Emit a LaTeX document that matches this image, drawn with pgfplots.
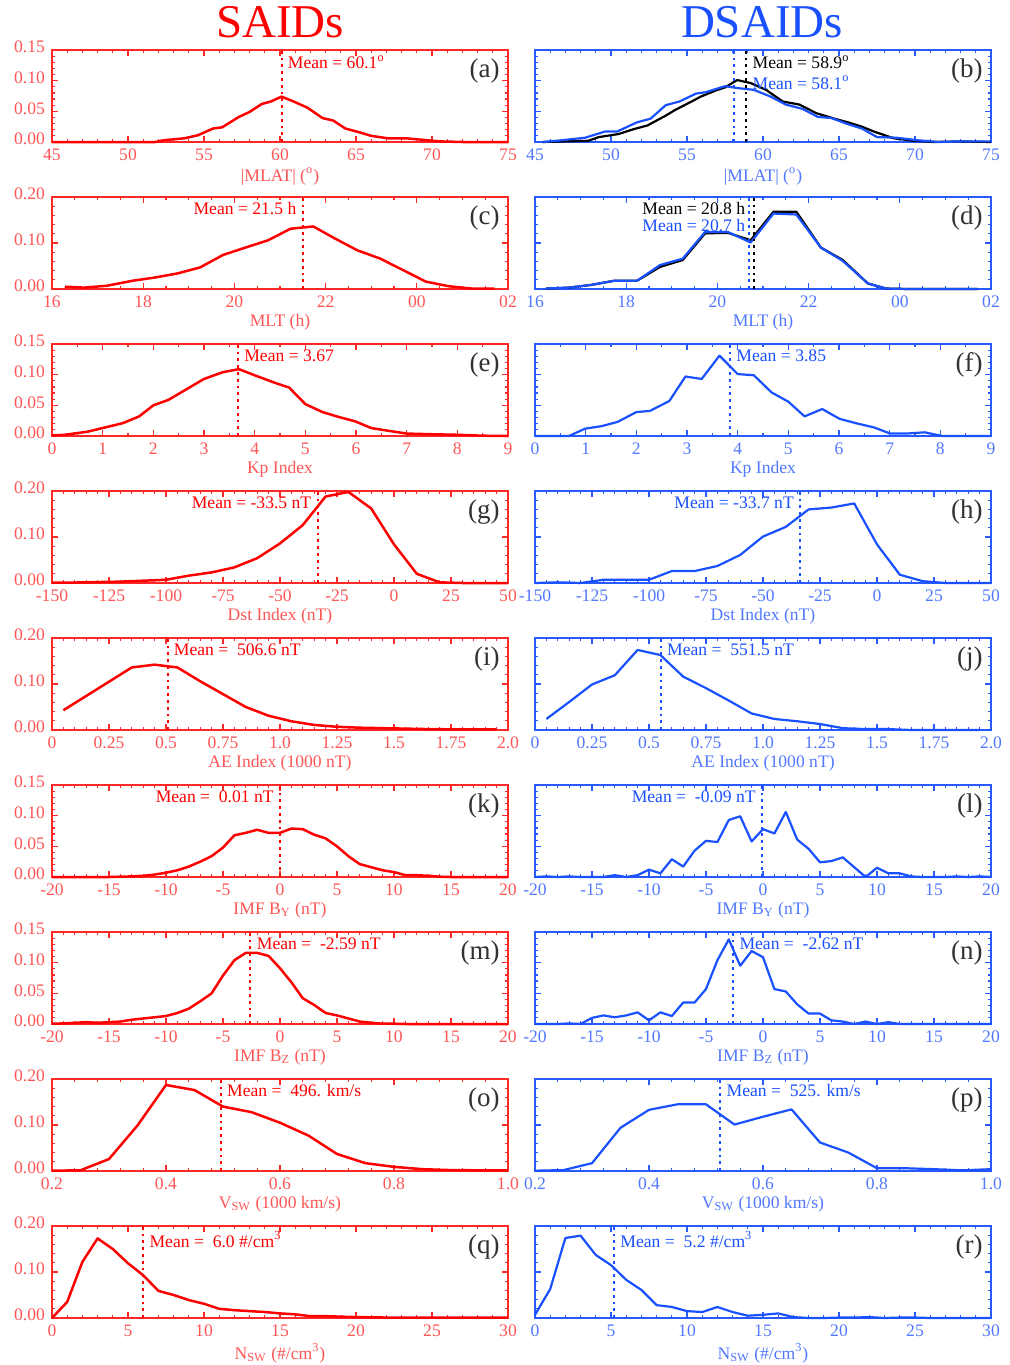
\documentclass[border=0pt]{standalone}
\usepackage{fontspec}
\setmainfont{Liberation Serif}
\usepackage{pgfplots}
\pgfplotsset{compat=1.18}
\definecolor{myred}{RGB}{255,0,0}
\definecolor{myblue}{RGB}{25,80,255}
\definecolor{redax}{RGB}{255,40,40}
\definecolor{redtx}{RGB}{255,85,85}
\definecolor{blueax}{RGB}{40,90,255}
\definecolor{bluetx}{RGB}{80,120,255}
\definecolor{lab}{RGB}{50,50,50}
\tikzset{
  rl/.style={myred, line width=1.25pt, line join=round},
  bl/.style={myblue, line width=1.1pt, line join=round},
  kl/.style={black, line width=1.1pt, line join=round},
  rm/.style={myred, line width=1pt, dash pattern=on 1.4pt off 2pt},
  bm/.style={myblue, line width=1pt, dash pattern=on 1.4pt off 2pt},
  km/.style={black, line width=1pt, dash pattern=on 1.4pt off 2pt},
  plab/.style={anchor=north east, text=lab, font=\fontsize{13.5}{13.5}\selectfont, xshift=-4pt, yshift=-4pt, inner sep=0pt},
  mtR/.style={anchor=north west, inner sep=0pt, xshift=3pt, yshift=-2.5pt, font=\fontsize{8.8}{9}\selectfont},
  mtL/.style={anchor=north east, inner sep=0pt, xshift=-3pt, yshift=-2.5pt, font=\fontsize{8.8}{9}\selectfont},
  mt2/.style={inner sep=0pt, font=\fontsize{8.8}{9}\selectfont, yshift=-1.6pt},
}
\pgfplotsset{
  panel/.style={scale only axis, width=228pt, height=46pt, anchor=north west,
    tick align=inside, major tick length=3pt, minor tick length=1.5pt,
    minor x tick num=4, minor y tick num=4,
    ymin=0, clip=false,
    font=\fontsize{8.8}{9}\selectfont,
    tick label style={font=\fontsize{8.8}{9}\selectfont},
    label style={font=\fontsize{8.8}{9}\selectfont},
    xlabel style={yshift=3.5pt},
    yticklabel style={yshift=1.5pt},
  },
  yA/.style={ymax=0.15, ytick={0,0.05,0.10,0.15}, yticklabels={0.00,0.05,0.10,0.15}},
  yB/.style={ymax=0.2, ytick={0,0.1,0.2}, yticklabels={0.00,0.10,0.20}},
  L/.style={panel, axis line style={redax, line width=0.8pt}, every tick/.style={redax, line width=0.6pt},
    tick label style={text=redtx}, label style={text=redtx}},
  R/.style={panel, axis line style={blueax, line width=0.8pt}, every tick/.style={blueax, line width=0.6pt},
    tick label style={text=bluetx}, label style={text=bluetx}, yticklabels={}},
}
\begin{document}
\begin{tikzpicture}
\useasboundingbox (0,0) rectangle (505pt,-682.5pt);
\node[text=myred, font=\fontsize{23.5}{23.5}\selectfont] at (140pt,-11pt) {SAIDs};
\node[text=myblue, font=\fontsize{23.5}{23.5}\selectfont] at (381pt,-11pt) {DSAIDs};

% ---------- (a) ----------
\begin{axis}[L, yA, at={(26pt,-25pt)}, xmin=45, xmax=75, xtick={45,50,...,75}, xticklabels={45,50,55,60,65,70,75},
  xlabel={|MLAT| (\textsuperscript{o})}]
\addplot[rl] coordinates {(45,0) (50,0) (51.8,0) (52.4,0.003) (53.7,0.006) (54.6,0.011) (55.6,0.022) (56.2,0.024) (57.3,0.041) (58.0,0.049) (58.8,0.062) (59.4,0.066) (60.1,0.074) (60.9,0.066) (61.8,0.056) (62.8,0.039) (63.5,0.035) (64.3,0.022) (65.2,0.016) (66.0,0.010) (67.1,0.006) (68.3,0.006) (69.2,0.004) (70.5,0.001) (72,0) (75,0)};
\addplot[rm] coordinates {(60.1,0) (60.1,0.15)};
\node[mtR, text=myred] at (axis cs:60.1,0.15) {Mean = 60.1\textsuperscript{o}};
\node[plab] at (rel axis cs:1,1) {(a)};
\end{axis}
% ---------- (b) ----------
\begin{axis}[yA, R, at={(267.5pt,-25pt)}, xmin=45, xmax=75, xtick={45,50,...,75}, xticklabels={45,50,55,60,65,70,75},
  xlabel={|MLAT| (\textsuperscript{o})}]
\addplot[kl] coordinates {(45.5,0) (48.5,0.002) (49.2,0.008) (50.5,0.013) (51.5,0.021) (52.4,0.027) (53.6,0.043) (54.2,0.052) (55.3,0.066) (55.9,0.074) (57.0,0.085) (57.5,0.089) (58.3,0.101) (59.2,0.096) (60.2,0.085) (61.3,0.066) (62.4,0.061) (63.5,0.047) (64.7,0.038) (65.6,0.032) (66.5,0.025) (67.3,0.017) (68.6,0.006) (69.9,0.002) (71.2,0) (73,0.001) (75,0)};
\addplot[bl] coordinates {(45.5,0) (46.8,0.003) (48.3,0.007) (49.6,0.017) (50.4,0.017) (51.7,0.032) (52.6,0.038) (53.6,0.060) (54.5,0.066) (55.6,0.079) (56.2,0.081) (57.5,0.091) (58.3,0.088) (59.4,0.085) (60.5,0.074) (61.5,0.061) (62.6,0.054) (63.6,0.041) (64.5,0.039) (65.6,0.029) (66.5,0.022) (67.5,0.008) (68.8,0.007) (70.1,0.003) (71.6,0) (73,0.001) (75,0.001)};
\addplot[km] coordinates {(58.9,0) (58.9,0.15)};
\addplot[bm] coordinates {(58.1,0) (58.1,0.15)};
\node[mtR, text=black] (m1) at (axis cs:58.9,0.15) {Mean = 58.9\textsuperscript{o}};
\node[mt2, anchor=north west, text=myblue, yshift=-1.4pt] at (m1.south west) {Mean = 58.1\textsuperscript{o}};
\node[plab] at (rel axis cs:1,1) {(b)};
\end{axis}

% ---------- (c) ----------
\begin{axis}[L, yB, at={(26pt,-98.5pt)}, xmin=16, xmax=26, xtick={16,18,...,26}, xticklabels={16,18,20,22,00,02},
  minor x tick num=3, xlabel={MLT (h)}]
\addplot[rl] coordinates {(16.28,0.005) (16.7,0.003) (17.2,0.007) (17.77,0.018) (18.26,0.025) (18.76,0.034) (19.25,0.047) (19.75,0.074) (20.24,0.090) (20.74,0.106) (21.23,0.131) (21.73,0.136) (22.2,0.110) (22.7,0.084) (23.2,0.066) (23.7,0.041) (24.2,0.016) (24.7,0.006) (25.2,0.001) (25.7,0.001)};
\addplot[rm] coordinates {(21.5,0) (21.5,0.2)};
\node[mtL, text=myred] at (axis cs:21.5,0.2) {Mean = 21.5 h};
\node[plab] at (rel axis cs:1,1) {(c)};
\end{axis}
% ---------- (d) ----------
\begin{axis}[yB, R, at={(267.5pt,-98.5pt)}, xmin=16, xmax=26, xtick={16,18,...,26}, xticklabels={16,18,20,22,00,02},
  minor x tick num=3, xlabel={MLT (h)}]
\addplot[kl] coordinates {(16.24,0.001) (16.74,0.003) (17.24,0.009) (17.74,0.018) (18.24,0.018) (18.74,0.048) (19.24,0.063) (19.73,0.121) (20.23,0.122) (20.73,0.106) (21.23,0.168) (21.73,0.168) (22.27,0.090) (22.75,0.063) (23.3,0.012) (23.7,0.001) (24.2,0) (24.7,0) (25.2,0) (25.7,0)};
\addplot[bl] coordinates {(16.24,0.001) (16.74,0.003) (17.24,0.009) (17.74,0.018) (18.24,0.018) (18.74,0.052) (19.24,0.066) (19.73,0.124) (20.23,0.124) (20.73,0.101) (21.23,0.164) (21.73,0.162) (22.27,0.090) (22.75,0.061) (23.3,0.012) (23.7,0.001) (24.2,0) (24.7,0) (25.2,0) (25.7,0)};
\addplot[km] coordinates {(20.8,0) (20.8,0.2)};
\addplot[bm] coordinates {(20.7,0) (20.7,0.2)};
\node[mtL, text=black] (m2) at (axis cs:20.75,0.2) {Mean = 20.8 h};
\node[mt2, anchor=north east, text=myblue] at (m2.south east) {Mean = 20.7 h};
\node[plab] at (rel axis cs:1,1) {(d)};
\end{axis}

% ---------- (e) ----------
\begin{axis}[L, yA, at={(26pt,-172pt)}, xmin=0, xmax=9, xtick={0,...,9}, xticklabels={0,1,2,3,4,5,6,7,8,9},
  minor x tick num=1, xlabel={Kp Index}]
\addplot[rl] coordinates {(0,0.001) (0.25,0.002) (0.7,0.007) (1.0,0.013) (1.4,0.021) (1.72,0.032) (2.0,0.050) (2.3,0.059) (2.67,0.077) (3.0,0.093) (3.37,0.104) (3.69,0.109) (4.0,0.099) (4.39,0.087) (4.68,0.079) (5.0,0.052) (5.34,0.039) (5.66,0.031) (5.98,0.024) (6.3,0.013) (6.6,0.009) (7.0,0.004) (7.44,0.003) (8.0,0.002) (8.5,0.0005) (9,0)};
\addplot[rm] coordinates {(3.67,0) (3.67,0.15)};
\node[mtR, text=myred] at (axis cs:3.67,0.15) {Mean = 3.67};
\node[plab] at (rel axis cs:1,1) {(e)};
\end{axis}
% ---------- (f) ----------
\begin{axis}[yA, R, at={(267.5pt,-172pt)}, xmin=0, xmax=9, xtick={0,...,9}, xticklabels={0,1,2,3,4,5,6,7,8,9},
  minor x tick num=1, xlabel={Kp Index}]
\addplot[bl] coordinates {(0,0) (0.67,0) (0.99,0.012) (1.31,0.016) (1.63,0.023) (2.0,0.039) (2.27,0.041) (2.65,0.057) (2.97,0.097) (3.29,0.093) (3.64,0.131) (4.0,0.101) (4.32,0.099) (4.67,0.071) (5.0,0.056) (5.32,0.032) (5.67,0.044) (6.01,0.028) (6.33,0.021) (6.69,0.014) (7.01,0.004) (7.33,0.004) (7.69,0.006) (8.04,0) (9,0)};
\addplot[bm] coordinates {(3.85,0) (3.85,0.15)};
\node[mtR, text=myblue] at (axis cs:3.85,0.15) {Mean = 3.85};
\node[plab] at (rel axis cs:1,1) {(f)};
\end{axis}

% ---------- (g) ----------
\begin{axis}[L, yB, at={(26pt,-245.5pt)}, xmin=-150, xmax=50, xtick={-150,-125,...,50}, xticklabels={-150,-125,-100,-75,-50,-25,0,25,50},
  xlabel={Dst Index (nT)}]
\addplot[rl] coordinates {(-150,0.001) (-140,0.001) (-130,0.002) (-120,0.003) (-110,0.005) (-100,0.007) (-90,0.016) (-80,0.023) (-70,0.034) (-60,0.054) (-50,0.086) (-40,0.126) (-30,0.188) (-20,0.198) (-10,0.162) (0,0.084) (10,0.020) (20,0.0015) (30,0) (40,0) (50,0)};
\addplot[rm] coordinates {(-33.5,0) (-33.5,0.2)};
\node[mtL, text=myred] at (axis cs:-33.5,0.2) {Mean = -33.5 nT};
\node[plab] at (rel axis cs:1,1) {(g)};
\end{axis}
% ---------- (h) ----------
\begin{axis}[yB, R, at={(267.5pt,-245.5pt)}, xmin=-150, xmax=50, xtick={-150,-125,...,50}, xticklabels={-150,-125,-100,-75,-50,-25,0,25,50},
  xlabel={Dst Index (nT)}]
\addplot[bl] coordinates {(-150,0) (-140,0.0015) (-130,0) (-120,0.007) (-110,0.007) (-100,0.007) (-90,0.026) (-80,0.026) (-70,0.037) (-60,0.061) (-50,0.101) (-40,0.122) (-30,0.160) (-20,0.164) (-10,0.173) (0,0.084) (10,0.018) (20,0.004) (30,0) (40,0) (50,0)};
\addplot[bm] coordinates {(-33.7,0) (-33.7,0.2)};
\node[mtL, text=myblue] at (axis cs:-33.7,0.2) {Mean = -33.7 nT};
\node[plab] at (rel axis cs:1,1) {(h)};
\end{axis}

% ---------- (i) ----------
\begin{axis}[L, yB, at={(26pt,-319pt)}, xmin=0, xmax=2, xtick={0,0.25,...,2}, xticklabels={0,0.25,0.5,0.75,1.0,1.25,1.5,1.75,2.0},
  xlabel={AE Index (1000 nT)}]
\addplot[rl] coordinates {(0.05,0.043) (0.15,0.074) (0.25,0.105) (0.35,0.136) (0.45,0.142) (0.55,0.136) (0.65,0.106) (0.75,0.078) (0.85,0.050) (0.95,0.031) (1.05,0.019) (1.15,0.011) (1.25,0.007) (1.35,0.005) (1.45,0.004) (1.55,0.003) (1.65,0.002) (1.75,0.0015) (1.85,0.0015) (1.95,0.0015)};
\addplot[rm] coordinates {(0.5066,0) (0.5066,0.2)};
\node[mtR, text=myred] at (axis cs:0.5066,0.2) {Mean =\ \ 506.6 nT};
\node[plab] at (rel axis cs:1,1) {(i)};
\end{axis}
% ---------- (j) ----------
\begin{axis}[yB, R, at={(267.5pt,-319pt)}, xmin=0, xmax=2, xtick={0,0.25,...,2}, xticklabels={0,0.25,0.5,0.75,1.0,1.25,1.5,1.75,2.0},
  xlabel={AE Index (1000 nT)}]
\addplot[bl] coordinates {(0.05,0.024) (0.15,0.061) (0.25,0.099) (0.35,0.119) (0.45,0.174) (0.55,0.163) (0.65,0.116) (0.75,0.091) (0.85,0.064) (0.95,0.036) (1.05,0.024) (1.15,0.019) (1.25,0.013) (1.35,0.004) (1.45,0.002) (1.55,0.002) (1.65,0) (1.75,0) (1.85,0) (1.95,0)};
\addplot[bm] coordinates {(0.5515,0) (0.5515,0.2)};
\node[mtR, text=myblue] at (axis cs:0.5515,0.2) {Mean =\ \ 551.5 nT};
\node[plab] at (rel axis cs:1,1) {(j)};
\end{axis}

% ---------- (k) ----------
\begin{axis}[L, yA, at={(26pt,-392.5pt)}, xmin=-20, xmax=20, xtick={-20,-15,...,20}, xticklabels={-20,-15,-10,-5,0,5,10,15,20},
  xlabel={IMF B\textsubscript{Y} (nT)}]
\addplot[rl] coordinates {(-20,0) (-18,0) (-15,0) (-13,0.001) (-12,0.002) (-11,0.004) (-10,0.007) (-9,0.011) (-8,0.017) (-7,0.025) (-6,0.034) (-5,0.048) (-4,0.068) (-3,0.072) (-2,0.077) (-1,0.072) (0,0.072) (1,0.079) (2,0.078) (3,0.069) (4,0.063) (5,0.050) (6,0.034) (7,0.021) (8,0.016) (9,0.011) (10,0.008) (11,0.003) (12,0.003) (13,0.002) (14,0.0005) (15,0) (20,0)};
\addplot[rm] coordinates {(0.01,0) (0.01,0.15)};
\node[mtL, text=myred] at (axis cs:0.01,0.15) {Mean =\ \ 0.01 nT};
\node[plab] at (rel axis cs:1,1) {(k)};
\end{axis}
% ---------- (l) ----------
\begin{axis}[yA, R, at={(267.5pt,-392.5pt)}, xmin=-20, xmax=20, xtick={-20,-15,...,20}, xticklabels={-20,-15,-10,-5,0,5,10,15,20},
  xlabel={IMF B\textsubscript{Y} (nT)}]
\addplot[bl] coordinates {(-20,0) (-19,0.001) (-18,0) (-17,0.001) (-16,0) (-15,0) (-14,0) (-13,0.003) (-12,0) (-11,0.003) (-10,0.012) (-9,0.006) (-8,0.029) (-7,0.017) (-6,0.043) (-5,0.059) (-4,0.057) (-3,0.093) (-2,0.099) (-1,0.058) (0,0.078) (1,0.071) (2,0.106) (3,0.061) (4,0.046) (5,0.024) (6,0.026) (7,0.032) (8,0.016) (9,0) (10,0.015) (11,0.006) (12,0.006) (13,0.001) (14,0) (15,0) (16,0) (17,0.001) (18,0) (19,0.001) (20,0)};
\addplot[bm] coordinates {(-0.09,0) (-0.09,0.15)};
\node[mtL, text=myblue] at (axis cs:-0.09,0.15) {Mean =\ \ -0.09 nT};
\node[plab] at (rel axis cs:1,1) {(l)};
\end{axis}

% ---------- (m) ----------
\begin{axis}[L, yA, at={(26pt,-466pt)}, xmin=-20, xmax=20, xtick={-20,-15,...,20}, xticklabels={-20,-15,-10,-5,0,5,10,15,20},
  xlabel={IMF B\textsubscript{Z} (nT)}]
\addplot[rl] coordinates {(-20,0.0005) (-19,0.001) (-18,0.002) (-17,0.003) (-16,0.002) (-15,0.003) (-14,0.004) (-13,0.007) (-12,0.009) (-11,0.011) (-10,0.013) (-9,0.018) (-8,0.025) (-7,0.037) (-6,0.050) (-5,0.079) (-4,0.104) (-3,0.116) (-2,0.116) (-1,0.111) (0,0.091) (1,0.068) (2,0.042) (3,0.031) (4,0.018) (5,0.014) (6,0.009) (7,0.004) (8,0.002) (9,0.0005) (10,0.0005) (11,0) (20,0)};
\addplot[rm] coordinates {(-2.59,0) (-2.59,0.15)};
\node[mtR, text=myred] at (axis cs:-2.59,0.15) {Mean =\ \ -2.59 nT};
\node[plab] at (rel axis cs:1,1) {(m)};
\end{axis}
% ---------- (n) ----------
\begin{axis}[yA, R, at={(267.5pt,-466pt)}, xmin=-20, xmax=20, xtick={-20,-15,...,20}, xticklabels={-20,-15,-10,-5,0,5,10,15,20},
  xlabel={IMF B\textsubscript{Z} (nT)}]
\addplot[bl] coordinates {(-20,0) (-19,0) (-18,0) (-17,0.001) (-16,0) (-15,0.010) (-14,0.014) (-13,0.011) (-12,0.014) (-11,0.019) (-10,0.006) (-9,0.019) (-8,0.013) (-7,0.035) (-6,0.035) (-5,0.057) (-4,0.104) (-3,0.138) (-2,0.095) (-1,0.119) (0,0.109) (1,0.057) (2,0.053) (3,0.032) (4,0.017) (5,0.017) (6,0.006) (7,0.004) (8,0) (9,0.004) (10,0) (11,0.003) (12,0) (20,0)};
\addplot[bm] coordinates {(-2.62,0) (-2.62,0.15)};
\node[mtR, text=myblue] at (axis cs:-2.62,0.15) {Mean =\ \ -2.62 nT};
\node[plab] at (rel axis cs:1,1) {(n)};
\end{axis}

% ---------- (o) ----------
\begin{axis}[L, yB, at={(26pt,-539.5pt)}, xmin=0.2, xmax=1.0, xtick={0.2,0.4,0.6,0.8,1.0}, xticklabels={0.2,0.4,0.6,0.8,1.0},
  xlabel={V\textsubscript{SW} (1000 km/s)}]
\addplot[rl] coordinates {(0.2,0.0007) (0.25,0.0015) (0.3,0.026) (0.35,0.099) (0.4,0.187) (0.45,0.176) (0.5,0.140) (0.55,0.128) (0.6,0.105) (0.65,0.077) (0.7,0.037) (0.75,0.017) (0.8,0.009) (0.85,0.004) (0.9,0.002) (0.95,0.0015) (1.0,0.0015)};
\addplot[rm] coordinates {(0.496,0) (0.496,0.2)};
\node[mtR, text=myred] at (axis cs:0.496,0.2) {Mean =\ \ 496. km/s};
\node[plab] at (rel axis cs:1,1) {(o)};
\end{axis}
% ---------- (p) ----------
\begin{axis}[yB, R, at={(267.5pt,-539.5pt)}, xmin=0.2, xmax=1.0, xtick={0.2,0.4,0.6,0.8,1.0}, xticklabels={0.2,0.4,0.6,0.8,1.0},
  xlabel={V\textsubscript{SW} (1000 km/s)}]
\addplot[bl] coordinates {(0.2,0.0007) (0.25,0.002) (0.3,0.017) (0.35,0.094) (0.4,0.133) (0.45,0.145) (0.5,0.145) (0.55,0.101) (0.6,0.118) (0.65,0.134) (0.7,0.062) (0.75,0.040) (0.8,0.006) (0.85,0.006) (0.9,0.004) (0.95,0.0015) (1.0,0.004)};
\addplot[bm] coordinates {(0.525,0) (0.525,0.2)};
\node[mtR, text=myblue] at (axis cs:0.525,0.2) {Mean =\ \ 525. km/s};
\node[plab] at (rel axis cs:1,1) {(p)};
\end{axis}

% ---------- (q) ----------
\begin{axis}[L, yB, at={(26pt,-613pt)}, xmin=0, xmax=30, xtick={0,5,...,30}, xticklabels={0,5,10,15,20,25,30},
  xlabel={N\textsubscript{SW} (\#/cm\textsuperscript{3})}]
\addplot[rl] coordinates {(0,0) (1,0.035) (2,0.122) (3,0.173) (4,0.150) (5,0.119) (6,0.093) (7,0.059) (8,0.050) (9,0.039) (10,0.031) (11,0.020) (12,0.017) (13,0.015) (14,0.013) (15,0.010) (16,0.008) (17,0.004) (18,0.004) (19,0.003) (20,0.002) (22,0.001) (24,0.001) (26,0.001) (28,0.001) (30,0.001)};
\addplot[rm] coordinates {(6.0,0) (6.0,0.2)};
\node[mtR, text=myred] at (axis cs:6.0,0.2) {Mean =\ \ 6.0 \#/cm\textsuperscript{3}};
\node[plab] at (rel axis cs:1,1) {(q)};
\end{axis}
% ---------- (r) ----------
\begin{axis}[yB, R, at={(267.5pt,-613pt)}, xmin=0, xmax=30, xtick={0,5,...,30}, xticklabels={0,5,10,15,20,25,30},
  xlabel={N\textsubscript{SW} (\#/cm\textsuperscript{3})}]
\addplot[bl] coordinates {(0,0.007) (1,0.063) (2,0.174) (3,0.179) (4,0.137) (5,0.115) (6,0.083) (7,0.061) (8,0.028) (9,0.024) (10,0.015) (11,0.013) (12,0.024) (13,0.013) (14,0.005) (15,0.007) (16,0.010) (17,0.002) (18,0) (19,0) (20,0.001) (21,0.001) (22,0.002) (23,0) (24,0.001) (25,0.001) (26,0) (30,0)};
\addplot[bm] coordinates {(5.2,0) (5.2,0.2)};
\node[mtR, text=myblue] at (axis cs:5.2,0.2) {Mean =\ \ 5.2 \#/cm\textsuperscript{3}};
\node[plab] at (rel axis cs:1,1) {(r)};
\end{axis}
\end{tikzpicture}
\end{document}
